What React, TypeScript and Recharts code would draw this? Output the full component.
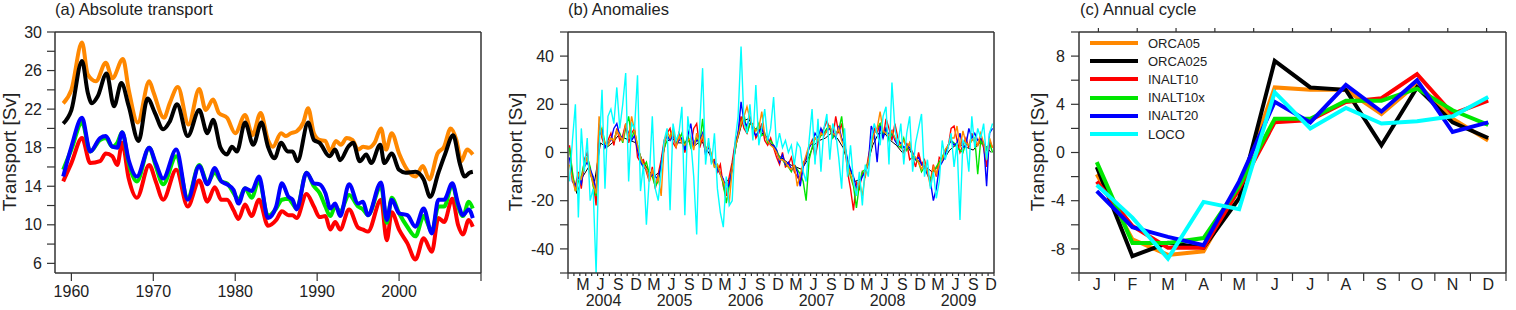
import React from "react";

import { Legend, Line, LineChart, XAxis, YAxis } from "recharts";


const FONT = "'Liberation Sans', Arial, Helvetica, sans-serif";
const INK = "#222";
const FRAME = "#333";

const seriesNames = ["ORCA05", "ORCA025", "INALT10", "INALT10x", "INALT20", "LOCO"];
const seriesColors = ["#ff8800", "#000000", "#ff0000", "#00e600", "#0000ff", "#00ffff"];
const monthLetters = ["J", "F", "M", "A", "M", "J", "J", "A", "S", "O", "N", "D"];

// (a) absolute transport [Sv]
const absYearsOrca05 = [1959, 1960, 1961.3, 1962, 1963, 1964.2, 1965, 1966.3, 1967, 1968.1, 1969.5, 1970, 1971.3, 1972, 1973, 1974.3, 1975.6, 1976.4, 1977.3, 1978, 1979, 1980, 1981.2, 1982.1, 1983.1, 1984, 1984.6, 1985.6, 1986.2, 1986.8, 1987.5, 1988.3, 1988.9, 1989.6, 1990.3, 1991, 1991.6, 1992.3, 1992.9, 1993.6, 1994.3, 1995, 1995.6, 1996.3, 1997, 1997.8, 1998.4, 1999.1, 2000, 2001, 2002, 2002.9, 2003.7, 2004.7, 2005.5, 2006.3, 2007, 2007.6, 2008.3, 2009];
const absOrca05 = [22.6, 24.0, 28.9, 25.6, 24.9, 26.8, 25.2, 27.2, 24.0, 20.6, 24.9, 23.8, 21.1, 22.6, 24.3, 20.4, 24.1, 21.9, 23.0, 21.6, 21.1, 19.5, 21.4, 19.3, 21.6, 18.8, 18.1, 19.5, 19.2, 19.5, 19.7, 20.6, 22.1, 19.5, 18.8, 18.7, 17.6, 18.7, 18.3, 19.0, 18.8, 17.8, 18.1, 18.0, 18.5, 20.0, 17.8, 19.5, 17.4, 15.7, 15.0, 16.1, 14.7, 17.4, 18.1, 20.0, 18.8, 16.6, 17.8, 17.3];
const absYearsOrca025 = [1959, 1960, 1961.3, 1962, 1962.5, 1963.2, 1964.3, 1965.2, 1966.1, 1967, 1968.2, 1969.3, 1970.2, 1971.2, 1972, 1972.9, 1974.2, 1975.6, 1976.6, 1977.3, 1978.2, 1979, 1979.6, 1980.2, 1981.2, 1982.2, 1983.2, 1984, 1984.8, 1985.6, 1986.4, 1987, 1987.6, 1988.9, 1989.6, 1990.3, 1991.5, 1992.2, 1992.8, 1993.8, 1994.4, 1995.2, 1996, 1996.6, 1997.7, 1998.2, 1999.1, 2000, 2000.8, 2002, 2003, 2003.8, 2004.8, 2005.6, 2006.6, 2007.4, 2008, 2008.6, 2009];
const absOrca025 = [20.5, 21.9, 27.0, 23.7, 22.6, 23.3, 25.7, 22.3, 24.7, 22.3, 18.7, 23.1, 21.6, 19.9, 20.7, 22.5, 19.2, 21.9, 19.5, 20.9, 18.0, 17.3, 18.1, 17.6, 20.6, 18.3, 20.6, 18.1, 16.9, 18.5, 17.6, 17.6, 16.6, 20.6, 18.8, 18.5, 17.1, 17.8, 16.7, 18.1, 18.5, 16.6, 17.3, 16.4, 18.3, 16.4, 17.4, 15.7, 15.4, 15.5, 14.7, 12.9, 15.4, 17.3, 19.3, 16.4, 15.0, 15.4, 15.5];
const absYearsInalt = [1959, 1960, 1961.3, 1962.3, 1963.5, 1964.2, 1965, 1965.6, 1966.2, 1967, 1968, 1969.5, 1970.3, 1971.2, 1972.8, 1974.2, 1975.6, 1976.6, 1977.5, 1978.3, 1979, 1979.8, 1980.4, 1981.2, 1982, 1982.9, 1984, 1985, 1985.7, 1986.5, 1987, 1987.5, 1988.7, 1989.6, 1990.3, 1991, 1991.6, 1992.2, 1992.8, 1993.9, 1995, 1995.6, 1996.2, 1997.8, 1998.5, 1999.1, 2000, 2001, 2002, 2003, 2004, 2004.8, 2005.5, 2006.5, 2007.2, 2007.8, 2008.5, 2009];
const absInalt10 = [14.5, 16.4, 19.0, 16.4, 16.6, 17.4, 17.1, 16.2, 18.5, 14.8, 12.8, 16.2, 14.5, 12.6, 15.7, 11.9, 14.6, 12.4, 13.9, 12.6, 12.6, 11.5, 10.6, 12.1, 10.9, 12.6, 9.9, 10.5, 11.4, 11.0, 11.0, 10.7, 13.2, 11.9, 10.8, 10.9, 9.5, 10.3, 9.5, 11.6, 9.7, 9.5, 9.3, 12.6, 8.4, 11.3, 9.5, 8.1, 6.4, 8.6, 7.2, 10.7, 10.3, 12.7, 10.0, 9.0, 10.5, 9.8];
const absInalt10x = [15.7, 17.8, 20.6, 17.6, 18.8, 19.0, 18.1, 18.5, 19.6, 16.4, 14.5, 18.0, 16.1, 14.2, 17.1, 12.8, 16.2, 14.4, 15.4, 14.5, 14.3, 13.3, 12.6, 13.8, 12.8, 14.6, 10.9, 11.7, 12.6, 12.7, 12.2, 11.7, 15.4, 14.0, 13.3, 11.9, 10.9, 11.9, 11.4, 13.1, 11.9, 11.6, 11.0, 14.0, 10.2, 12.8, 11.2, 9.8, 8.8, 10.9, 9.3, 11.9, 11.9, 14.2, 11.9, 10.9, 12.4, 11.7];
const absInalt20 = [15.0, 18.1, 21.1, 17.6, 19.0, 19.2, 18.1, 18.0, 19.6, 16.7, 15.0, 18.0, 16.4, 14.8, 17.8, 12.6, 16.1, 14.2, 15.9, 14.5, 14.2, 13.6, 12.2, 13.8, 13.5, 15.0, 10.7, 11.9, 14.3, 12.9, 12.6, 11.6, 15.4, 14.3, 14.2, 13.3, 11.7, 12.2, 10.9, 14.2, 12.2, 12.4, 11.0, 14.4, 10.5, 12.6, 11.2, 11.0, 9.8, 11.7, 9.1, 12.6, 12.6, 14.3, 12.2, 11.0, 11.6, 10.7];
const absTicksX = [1960, 1970, 1980, 1990, 2000, 2010];
const absTicksY = [6, 8, 10, 12, 14, 16, 18, 20, 22, 24, 26, 28, 30];

// (b) anomalies [Sv], two samples per month, 2004-2009
const anomStartYear = 2004;
const anomLabelMonths = [2, 5, 8, 11];
const anomOrca05 = [
  -5, -11, -16, -9, -11, -6, -2, -8, -13, -17, 15, 7, 4, 3, 6, 5, 9, 7, 5, 12, 6, 15, 9, 3,
  -2, -5, -7, -12, -7, -13, -10, -18, 3, 9, 6, 10, 2, 7, 4, 3, 5, 6, 1, 8, 4, 7, 1, 3,
  -1, -6, -5, -9, -12, -15, -21, -7, 2, 7, 12, 15, 19, 14, 11, 9, 10, 17, 7, 5, 3, 2, 0, -3,
  -3, -4, -6, -7, -5, -14, -9, -5, -1, 3, 4, 6, 5, 8, 7, 9, 11, 8, 7, 10, 5, 2, -5, -9,
  -13, -16, -12, -18, -9, -4, 3, 8, 10, 17, 9, 8, 7, 9, 6, 4, 3, 5, 2, 4, -1, -2, -4, -7,
  -4, -8, -14, -6, -9, -5, -3, 1, 3, 6, 6, 11, 2, 9, 4, 3, 5, 6, 3, 8, 4, -3, 6, 2,
];
const anomOrca025Monthly = [
  -8, -17, -10, -6, -12, 4, 2, 4, 7, 6, 5, 4,
  -3, -7, -10, -8, 4, 6, 4, 4, 5, 3, 5, 1,
  -3, -7, -13, -10, 4, 13, 14, 10, 9, 6, 3, -1,
  -3, -5, -6, -7, -3, 3, 5, 6, 8, 6, 2, -6,
  -12, -11, -6, 3, 8, 8, 5, 3, 0, 2, -2, -4,
  -6, -8, -6, -3, 1, 3, 3, 2, 1, 4, 3, 0,
];
const anomInalt10 = [
  3, -10, -14, -8, -15, -3, 0, -9, -12, -22, 12, 6, 2, 5, 8, 3, 10, 5, 7, 12, 4, 8, 10, -2,
  -4, -3, -8, -12, -6, -15, -9, -3, 5, 8, 10, 4, 2, 8, 5, 0, 6, 3, 10, 12, 2, 6, 0, 4,
  -4, -3, -8, -5, -14, -18, -10, -4, 4, 8, 15, 10, 8, 12, 12, 6, 8, 12, 5, 3, 6, 2, -2, -5,
  0, -6, -5, -2, -8, -10, -12, -4, -3, 2, 5, -2, 4, 8, 10, 13, 10, 6, 15, 8, 12, 4, -8, -15,
  -24, -12, -15, -8, -10, -2, 4, 10, 8, 12, 6, 14, 10, 5, 12, 6, 3, 0, 4, -3, -2, -6, 0, -5,
  -3, -8, -12, -5, -10, -2, -3, 0, 2, 10, 11, 5, 0, 3, 6, 2, 8, 4, 3, 6, 2, -6, 5, 2,
];
const anomInalt10x = [
  2, -8, -16, -12, -10, -4, -2, -6, -14, -18, 8, 10, 4, 3, 6, 5, 9, 8, 4, 10, 15, 6, 9, 3,
  -2, -6, -4, -9, -10, -14, -12, -5, 2, 5, 7, 9, 4, 5, 8, 3, 7, 2, 4, 6, 3, 14, 1, 3,
  -1, -6, -5, -9, -13, -21, -14, -6, 1, 8, 12, 16, 8, 12, 11, 9, 12, 7, 8, 4, 5, 3, 1, -2,
  -3, -5, -6, -8, -5, -7, -9, -12, -20, -3, 2, 6, 5, 7, 8, 10, 11, 6, 8, 9, 15, 4, -5, -10,
  -14, -23, -13, -8, -7, -4, 3, 8, 10, 12, 7, 10, 5, 8, 6, 3, 2, 6, 1, 4, -2, -3, -4, -8,
  -6, -9, -11, -8, -6, -4, -2, 1, 3, 5, 4, 2, 1, 0, 4, 3, 5, 6, -9, 5, 3, 1, 4, 0,
];
const anomInalt20 = [
  -2, -12, -14, -10, -13, -6, -4, -7, -10, -16, 7, 9, 2, 4, 5, 10, 12, 7, 6, 11, 8, 5, 7, 1,
  -4, -6, -7, -11, -9, -10, -11, -5, 4, 7, 5, 7, 3, 5, 6, 1, 7, 12, 3, 5, 5, 8, -1, 3,
  -3, -4, -7, -9, -11, -16, -13, -7, 3, 8, 21, 13, 11, 15, 9, 7, 9, 10, 7, 6, 3, 3, 1, -4,
  -1, -5, -4, -7, -5, -8, -14, -6, -2, 2, 4, 8, 6, 10, 7, 9, 10, 9, 6, 11, 6, 3, -3, -7,
  -10, -15, -13, -10, -8, -5, 11, 8, -4, 11, 6, 10, 7, 9, 5, 3, 4, 2, 3, 2, 0, -3, -2, -5,
  -6, -9, -12, -20, -15, -6, -4, -1, 3, 5, 3, 4, 8, 2, 3, 10, 6, 8, 5, 6, 4, -14, 8, 10,
];
const anomLoco = [
  -12, 5, 20, -27, 10, -8, 6, -20, -15, -50, 0, 26, -15, 15, 18, 12, 27, 10, 20, 33, -12, 12, 10, 32,
  -16, -5, -30, -10, 15, -15, -20, -8, 5, 10, -24, 12, 5, 8, 19, -26, 15, 5, -10, -34, 10, 35, -5, 6,
  -5, 8, -15, -25, -31, -10, -22, -20, 5, 15, 44, 12, 8, 20, 5, 28, 3, 10, 18, 5, 10, 23, 2, 8,
  2, 5, 0, 3, -5, 4, 2, -8, -12, 5, 18, -5, 14, -8, 10, 16, -3, 12, 8, -2, -15, 10, -10, 3,
  -12, -18, -8, -22, -5, -10, 5, 12, 8, 3, 15, 19, -5, 29, 10, 3, 12, -5, 8, 15, -8, 4, 10, 16,
  -10, -3, -15, -8, -19, -12, 5, -3, 2, 8, -6, 4, -28, 5, 3, -8, 15, 2, 10, 6, 12, -3, 8, 12,
];
const anomTicksY = [-50, -40, -30, -20, -10, 0, 10, 20, 30, 40, 50];

// (c) annual cycle [Sv]
const cycleMonths = [1, 2, 3, 4, 5, 6, 7, 8, 9, 10, 11, 12];
const cycleOrca05 = [-1.8, -7.2, -8.5, -8.2, -3.0, 5.4, 5.2, 5.2, 3.2, 5.7, 2.8, 1.0];
const cycleOrca025 = [-1.2, -8.6, -7.5, -7.9, -3.8, 7.6, 5.4, 5.2, 0.6, 5.4, 2.5, 1.2];
const cycleInalt10 = [-2.4, -6.1, -7.9, -7.9, -3.0, 2.5, 2.7, 4.2, 4.5, 6.5, 3.2, 4.3];
const cycleInalt10x = [-0.8, -7.5, -7.5, -7.1, -2.8, 2.8, 2.8, 4.3, 4.3, 5.3, 3.5, 2.3];
const cycleInalt20 = [-3.2, -6.2, -7.0, -7.7, -2.4, 4.2, 2.5, 5.6, 3.4, 6.0, 1.7, 2.5];
const cycleLoco = [-2.7, -5.4, -8.8, -4.1, -4.7, 5.0, 2.0, 3.7, 2.4, 2.6, 3.0, 4.6];
const cycleTicksY = [-10, -8, -6, -4, -2, 0, 2, 4, 6, 8, 10];


const zip = (ts: number[], vs: number[]) => ts.map((t, i) => ({ t, v: vs[i] }));

const absSeries = [
  { name: "ORCA05", color: seriesColors[0], data: zip(absYearsOrca05, absOrca05) },
  { name: "ORCA025", color: seriesColors[1], data: zip(absYearsOrca025, absOrca025) },
  { name: "INALT10", color: seriesColors[2], data: zip(absYearsInalt, absInalt10) },
  { name: "INALT10x", color: seriesColors[3], data: zip(absYearsInalt, absInalt10x) },
  { name: "INALT20", color: seriesColors[4], data: zip(absYearsInalt, absInalt20) },
];

const halfMonthTimes = anomOrca05.map((_, i) => anomStartYear + (i + 0.5) / 24);
const monthTimes = anomOrca025Monthly.map((_, i) => anomStartYear + (i + 0.5) / 12);
// drawing order: thin black underneath, LOCO on top
const anomSeries = [
  { name: "ORCA025", color: seriesColors[1], width: 1, data: zip(monthTimes, anomOrca025Monthly) },
  { name: "INALT10", color: seriesColors[2], width: 1.4, data: zip(halfMonthTimes, anomInalt10) },
  { name: "INALT10x", color: seriesColors[3], width: 1.4, data: zip(halfMonthTimes, anomInalt10x) },
  { name: "INALT20", color: seriesColors[4], width: 1.4, data: zip(halfMonthTimes, anomInalt20) },
  { name: "ORCA05", color: seriesColors[0], width: 1.4, data: zip(halfMonthTimes, anomOrca05) },
  { name: "LOCO", color: seriesColors[5], width: 1.4, data: zip(halfMonthTimes, anomLoco) },
];
const monthEdges = Array.from({ length: 73 }, (_, k) => anomStartYear + k / 12);
const anomBottomTicks = [
  ...monthEdges,
  ...monthEdges.slice(0, 72).filter((_, k) => anomLabelMonths.includes(k % 12)).map((t) => t + 1 / 24),
].sort((a, b) => a - b);

const cycleRows = cycleMonths.map((m, i) => ({
  m,
  orca05: cycleOrca05[i],
  orca025: cycleOrca025[i],
  inalt10: cycleInalt10[i],
  inalt10x: cycleInalt10x[i],
  inalt20: cycleInalt20[i],
  loco: cycleLoco[i],
}));
const cycleKeys = ["orca05", "orca025", "inalt10", "inalt10x", "inalt20", "loco"];
const cycleBottomTicks = [...cycleMonths.flatMap((m) => [m - 0.5, m]), 12.5];


const tickFont = { fill: INK, fontSize: 16, fontFamily: FONT };
const axisLine = { stroke: FRAME, strokeWidth: 1.5 };
const tickLine = { stroke: FRAME, strokeWidth: 1.2 };
const noLabel = () => "";

const AnomTopTick = (props: any) => {
  const { x, y, payload } = props;
  const k = Math.round((payload.value - anomStartYear) * 12);
  return <line x1={x} x2={x} y1={y} y2={y - (k % 12 === 0 ? 8 : 4)} stroke={FRAME} strokeWidth={1.2} />;
};

const AnomBottomTick = (props: any) => {
  const { x, y, payload } = props;
  const k = Math.round((payload.value - anomStartYear) * 24);
  if (k % 2 === 1) {
    return (
      <text x={x} y={y + 17} textAnchor="middle" fontSize={16} fontFamily={FONT} fill={INK}>
        {monthLetters[((k - 1) / 2) % 12]}
      </text>
    );
  }
  const m = k / 2;
  return (
    <g>
      <line x1={x} x2={x} y1={y} y2={y + (m === 0 ? 6 : 3)} stroke={FRAME} strokeWidth={1.2} />
      {m % 12 === 6 && (
        <text x={x} y={y + 33} textAnchor="middle" fontSize={16} fontFamily={FONT} fill={INK}>
          {anomStartYear + (m - 6) / 12}
        </text>
      )}
    </g>
  );
};

const CycleBottomTick = (props: any) => {
  const { x, y, payload } = props;
  if (Number.isInteger(payload.value)) {
    return (
      <text x={x} y={y + 17} textAnchor="middle" fontSize={16} fontFamily={FONT} fill={INK}>
        {monthLetters[payload.value - 1]}
      </text>
    );
  }
  return <line x1={x} x2={x} y1={y} y2={y + 8} stroke={FRAME} strokeWidth={1.2} />;
};

const CycleTopTick = (props: any) => {
  const { x, y } = props;
  return <line x1={x} x2={x} y1={y} y2={y - 4} stroke={FRAME} strokeWidth={1.2} />;
};

const CycleLegend = () => (
  <div style={{ fontFamily: FONT, fontSize: 13, color: INK }}>
    {seriesNames.map((name, i) => (
      <div key={name} style={{ display: "flex", alignItems: "center", height: 18.2 }}>
        <svg width={48} height={6} style={{ display: "block" }}>
          <line x1={0} x2={48} y1={3} y2={3} stroke={seriesColors[i]} strokeWidth={4} />
        </svg>
        <span style={{ marginLeft: 10 }}>{name}</span>
      </div>
    ))}
  </div>
);


const App: React.FC = () => {
  return (
    <div style={{ position: "absolute", left: 0, top: 0, width: 1516, height: 310, background: "#fff" }}>
      <div style={{ position: "absolute", left: 0, top: 0 }}>
        <LineChart width={510} height={310} margin={{ top: 22, right: 19, bottom: 7, left: 0 }}>
          <XAxis
            dataKey="t" type="number" domain={[1958, 2010]} ticks={absTicksX} interval={0}
            tickFormatter={(v) => (v === 2010 ? "" : String(v))}
            tick={tickFont} axisLine={axisLine} tickLine={tickLine} tickSize={8} tickMargin={5} height={30}
          />
          <XAxis
            xAxisId="top" orientation="top" type="number" domain={[1958, 2010]} ticks={absTicksX} interval={0}
            tickFormatter={noLabel} axisLine={axisLine} tickLine={tickLine} tickSize={8} height={10}
          />
          <YAxis
            type="number" domain={[5, 30]} ticks={absTicksY} interval={0}
            tickFormatter={(v) => ((v - 6) % 4 === 0 ? String(v) : "")}
            tick={tickFont} axisLine={axisLine} tickLine={tickLine} tickSize={8} tickMargin={5} width={55}
          />
          <YAxis
            yAxisId="right" orientation="right" type="number" domain={[5, 30]} ticks={absTicksY} interval={0}
            tickFormatter={noLabel} axisLine={axisLine} tickLine={tickLine} tickSize={8} width={10}
          />
          {absSeries.map((s) => (
            <Line
              key={s.name} data={s.data} dataKey="v" name={s.name} type="monotone"
              stroke={s.color} strokeWidth={4} dot={false} activeDot={false} isAnimationActive={false}
            />
          ))}
        </LineChart>
      </div>

      <div style={{ position: "absolute", left: 500, top: 0 }}>
        <LineChart width={520} height={310} margin={{ top: 22, right: 16, bottom: 7, left: 0 }}>
          <XAxis
            dataKey="t" type="number" domain={[2004, 2010]} ticks={anomBottomTicks} interval={0}
            tick={<AnomBottomTick />} axisLine={axisLine} tickLine={false} tickSize={0} tickMargin={0} height={30}
          />
          <XAxis
            xAxisId="top" orientation="top" type="number" domain={[2004, 2010]} ticks={monthEdges} interval={0}
            tick={<AnomTopTick />} axisLine={axisLine} tickLine={false} tickSize={0} tickMargin={0} height={10}
          />
          <YAxis
            type="number" domain={[-50, 50]} ticks={anomTicksY} interval={0}
            tickFormatter={(v) => (v % 20 === 0 ? String(v) : "")}
            tick={tickFont} axisLine={axisLine} tickLine={tickLine} tickSize={8} tickMargin={6} width={68}
          />
          <YAxis
            yAxisId="right" orientation="right" type="number" domain={[-50, 50]} ticks={anomTicksY} interval={0}
            tickFormatter={noLabel} axisLine={axisLine} tickLine={tickLine} tickSize={8} width={10}
          />
          {anomSeries.map((s) => (
            <Line
              key={s.name} data={s.data} dataKey="v" name={s.name} type="linear"
              stroke={s.color} strokeWidth={s.width} dot={false} activeDot={false} isAnimationActive={false}
            />
          ))}
        </LineChart>
      </div>

      <div style={{ position: "absolute", left: 1010, top: 0 }}>
        <LineChart width={506} height={310} data={cycleRows} margin={{ top: 22, right: 0, bottom: 7, left: 0 }}>
          <XAxis
            dataKey="m" type="number" domain={[0.5, 12.5]} ticks={cycleBottomTicks} interval={0}
            tick={<CycleBottomTick />} axisLine={axisLine} tickLine={false} tickSize={0} tickMargin={0} height={30}
          />
          <XAxis
            xAxisId="top" orientation="top" type="number" domain={[0.5, 12.5]}
            ticks={cycleBottomTicks.filter((t) => !Number.isInteger(t))} interval={0}
            tick={<CycleTopTick />} axisLine={axisLine} tickLine={false} tickSize={0} tickMargin={0} height={10}
          />
          <YAxis
            type="number" domain={[-10, 10]} ticks={cycleTicksY} interval={0}
            tickFormatter={(v) => (v % 4 === 0 && Math.abs(v) < 10 ? String(v) : "")}
            tick={tickFont} axisLine={axisLine} tickLine={tickLine} tickSize={8} tickMargin={6} width={69}
          />
          <YAxis
            yAxisId="right" orientation="right" type="number" domain={[-10, 10]} ticks={cycleTicksY} interval={0}
            tickFormatter={noLabel} axisLine={axisLine} tickLine={tickLine} tickSize={8} width={10}
          />
          <Legend
            layout="vertical" align="center" verticalAlign="middle"
            wrapperStyle={{ left: 80, top: 34, width: 150, height: 110 }}
            content={() => <CycleLegend />}
          />
          {cycleKeys.map((key, i) => (
            <Line
              key={key} dataKey={key} name={seriesNames[i]} type="linear"
              stroke={seriesColors[i]} strokeWidth={4} dot={false} activeDot={false} isAnimationActive={false}
            />
          ))}
        </LineChart>
      </div>

      <svg
        width={1516} height={310}
        style={{ position: "absolute", left: 0, top: 0, pointerEvents: "none" }}
        fontFamily={FONT} fill={INK}
      >
        <text x={55} y={15} fontSize={16.5}>(a) Absolute transport</text>
        <text x={568} y={15} fontSize={16.5}>(b) Anomalies</text>
        <text x={1080} y={15} fontSize={16.5}>(c) Annual cycle</text>
        <text transform="translate(16,152) rotate(-90)" textAnchor="middle" fontSize={19}>Transport [Sv]</text>
        <text transform="translate(522,152) rotate(-90)" textAnchor="middle" fontSize={19}>Transport [Sv]</text>
        <text transform="translate(1044,152) rotate(-90)" textAnchor="middle" fontSize={19}>Transport [Sv]</text>
      </svg>
    </div>
  );
};

export default App;
